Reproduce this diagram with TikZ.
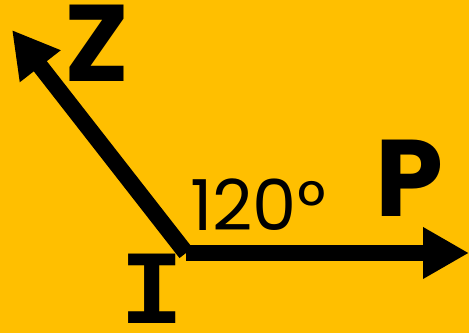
\documentclass[tikz,border=0pt]{standalone}
\usepackage{fontspec}
\setmainfont{Poppins}
\newfontfamily\barfont{Liberation Mono}
\usetikzlibrary{arrows.meta}
\definecolor{amber-bg}{RGB}{255,191,0}

\begin{document}
\begin{tikzpicture}[
    x=0.02cm, y=0.02cm,
    ray/.style = {line width=0.33cm, line cap=butt,
                  -{Triangle[length=0.92cm,width=0.97cm]}},
    letter/.style = {font=\fontsize{62}{62}\selectfont\bfseries, inner sep=0pt},
    anglelab/.style = {font=\fontsize{40}{40}\selectfont, inner sep=0pt}
  ]
    %% ---- background, fixes the margins ----
    \fill[amber-bg] (0,0) rectangle (469,333);
    \useasboundingbox (0,0) rectangle (469,333);

    %% ---- vertex and ray ends ----
    \coordinate (vertex) at (186,80);
    \coordinate (zend)   at (12,303);
    \coordinate (pend)   at (469,80);

    \draw[ray] (vertex) -- (zend);
    \draw[ray] (vertex) -- (pend);

    %% ---- labels ----
    \node[letter] (zlab) at (97,290) {Z};
    \node[letter] (plab) at (409,155) {P};
    \node[letter, font=\barfont\fontsize{60}{60}\selectfont\bfseries]
      (ilab) at (152,44) {I};
    \node[anglelab] (angle) at (258,128) {120°};

  \end{tikzpicture}
\end{document}
